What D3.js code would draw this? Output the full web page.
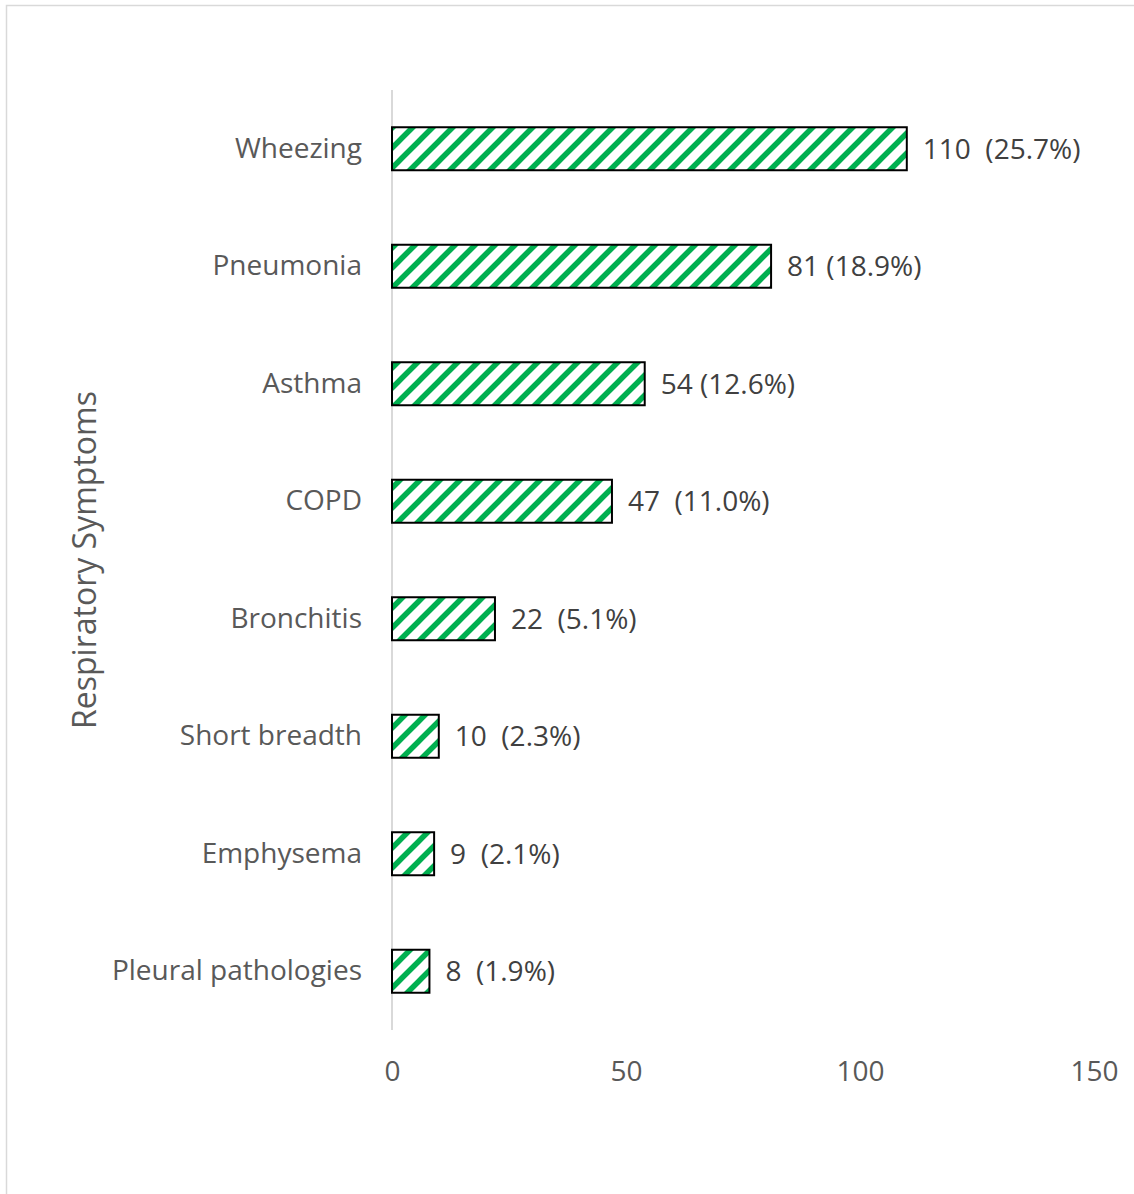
<!DOCTYPE html>
<html>
<head>
<meta charset="utf-8">
<script src="https://cdn.jsdelivr.net/npm/d3@7"></script>
<style>
  html, body { margin: 0; padding: 0; background: #fff; }
  svg text { font-family: "Open Sans", "Noto Sans", sans-serif; }
</style>
</head>
<body>
<svg id="chart" width="1134" height="1194"></svg>
<script>
// Respiratory symptom counts and shares
const categories = ["Wheezing", "Pneumonia", "Asthma", "COPD", "Bronchitis", "Short breadth", "Emphysema", "Pleural pathologies"];
const counts = [110, 81, 54, 47, 22, 10, 9, 8];
const shareLabels = ["110  (25.7%)", "81 (18.9%)", "54 (12.6%)", "47  (11.0%)", "22  (5.1%)", "10  (2.3%)", "9  (2.1%)", "8  (1.9%)"];
const xTicks = [0, 50, 100, 150];
const axisTitle = "Respiratory Symptoms";

const svg = d3.select("#chart");

// chart-area frame (open on the right/bottom edges)
svg.append("rect")
  .attr("x", 6.5).attr("y", 5.5)
  .attr("width", 1200).attr("height", 1300)
  .attr("fill", "#fff").attr("stroke", "#d9d9d9").attr("stroke-width", 1.5);

const plot = { left: 392, right: 1094, top: 90, bottom: 1030 };

const x = d3.scaleLinear().domain([0, 150]).range([plot.left, plot.right]);
const y = d3.scaleBand().domain(categories).range([plot.top, plot.bottom]).paddingInner(0.634).paddingOuter(0.317);

// diagonal hatch fill
const defs = svg.append("defs");
const pat = defs.append("pattern")
  .attr("id", "hatch").attr("patternUnits", "userSpaceOnUse")
  .attr("width", 20).attr("height", 20);
pat.append("rect").attr("width", 20).attr("height", 20).attr("fill", "#fff");
pat.append("path")
  .attr("d", "M-5,5 L5,-5 M0,20 L20,0 M15,25 L25,15")
  .attr("stroke", "#00b050").attr("stroke-width", 5.5).attr("stroke-linecap", "square");

// category axis line
svg.append("line")
  .attr("x1", x(0)).attr("x2", x(0))
  .attr("y1", plot.top).attr("y2", plot.bottom)
  .attr("stroke", "#d9d9d9").attr("stroke-width", 2);

// bars
svg.append("g").selectAll("rect")
  .data(categories)
  .join("rect")
  .attr("x", x(0))
  .attr("y", d => y(d))
  .attr("width", (d, i) => x(counts[i]) - x(0))
  .attr("height", y.bandwidth())
  .attr("fill", "url(#hatch)")
  .attr("stroke", "#000").attr("stroke-width", 2);

// value labels
svg.append("g").selectAll("text")
  .data(categories)
  .join("text")
  .attr("x", (d, i) => x(counts[i]) + 16)
  .attr("y", d => y(d) + y.bandwidth() / 2)
  .attr("dy", "0.35em")
  .attr("fill", "#404040")
  .attr("font-size", 28)
  .style("white-space", "pre")
  .text((d, i) => shareLabels[i]);

// category labels
const yAxis = d3.axisLeft(y).tickSize(0).tickPadding(30);
const gy = svg.append("g").attr("transform", `translate(${x(0)},0)`).call(yAxis);
gy.select(".domain").remove();
gy.selectAll("text").attr("fill", "#595959").attr("font-size", 28)
  .style("font-family", "'Open Sans', 'Noto Sans', sans-serif");

// value axis tick labels
const xAxis = d3.axisBottom(x).tickValues(xTicks).tickSize(0).tickPadding(31);
const gx = svg.append("g").attr("transform", `translate(0,${plot.bottom})`).call(xAxis);
gx.select(".domain").remove();
gx.selectAll("text").attr("fill", "#595959").attr("font-size", 28)
  .style("font-family", "'Open Sans', 'Noto Sans', sans-serif");

// axis title
svg.append("text")
  .attr("transform", `translate(85,${(plot.top + plot.bottom) / 2})` + " rotate(-90)")
  .attr("text-anchor", "middle")
  .attr("dy", "0.35em")
  .attr("fill", "#595959")
  .attr("font-size", 32)
  .text(axisTitle);
</script>
</body>
</html>
